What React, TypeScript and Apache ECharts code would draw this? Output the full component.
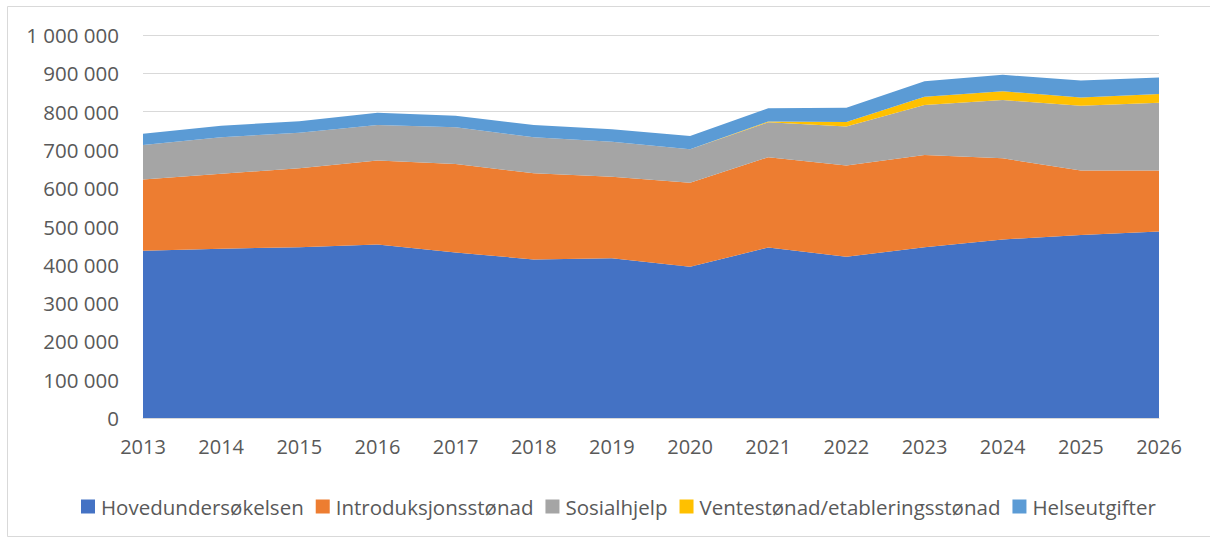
import React, { useEffect, useRef } from "react";
import * as echarts from "echarts";

const years = ["2013", "2014", "2015", "2016", "2017", "2018", "2019", "2020", "2021", "2022", "2023", "2024", "2025", "2026"];
const hovedundersokelsen = [437000, 442000, 446000, 453000, 432000, 414000, 417000, 395000, 445000, 421000, 446000, 466000, 478000, 487000];
const introduksjonsstonad = [186000, 196000, 206000, 219000, 231000, 225000, 213000, 219000, 236000, 238000, 241000, 212000, 168000, 159000];
const sosialhjelp = [90000, 95000, 93000, 93000, 96000, 94000, 91000, 88000, 91000, 102000, 130000, 152000, 169000, 177000];
const ventestonad = [0, 0, 0, 0, 0, 0, 0, 0, 2000, 12000, 22000, 23000, 22000, 23000];
const helseutgifter = [29000, 30000, 30000, 32000, 30000, 32000, 33000, 34000, 35000, 37000, 40000, 43000, 44000, 43000];
const yTicks = [0, 100000, 200000, 300000, 400000, 500000, 600000, 700000, 800000, 900000, 1000000];

const seriesDefs = [
  { name: "Hovedundersøkelsen", data: hovedundersokelsen, color: "#4472C4" },
  { name: "Introduksjonsstønad", data: introduksjonsstonad, color: "#ED7D31" },
  { name: "Sosialhjelp", data: sosialhjelp, color: "#A5A5A5" },
  { name: "Ventestønad/etableringsstønad", data: ventestonad, color: "#FFC000" },
  { name: "Helseutgifter", data: helseutgifter, color: "#5B9BD5" },
];

const fmt = (v: number) => String(v).replace(/\B(?=(\d{3})+(?!\d))/g, " ");

export default function App() {
  const ref = useRef<HTMLDivElement>(null);
  useEffect(() => {
    if (!ref.current) return;
    const chart = echarts.init(ref.current, undefined, { renderer: "svg" });
    const font = "'Open Sans', 'Liberation Sans', sans-serif";
    chart.setOption({
      animation: false,
      backgroundColor: "#ffffff",
      color: seriesDefs.map((s) => s.color),
      textStyle: { fontFamily: font },
      graphic: [
        {
          type: "rect",
          shape: { x: 7.5, y: 6.5, width: 1210, height: 530 },
          style: { fill: "none", stroke: "#d9d9d9", lineWidth: 1 },
          silent: true,
          z: -10,
        },
      ],
      grid: { left: 143, right: 51, top: 35, bottom: 120, containLabel: false },
      legend: {
        left: 76,
        top: 491,
        itemWidth: 14,
        itemHeight: 14,
        itemGap: 12,
        icon: "rect",
        textStyle: { fontSize: 20.5, color: "#595959", fontFamily: font, padding: [0, 0, 0, 1] },
        data: seriesDefs.map((s) => s.name),
      },
      xAxis: {
        type: "category",
        data: years,
        boundaryGap: false,
        axisLine: { show: true, lineStyle: { color: "#d9d9d9", width: 1 } },
        axisTick: { show: false },
        axisLabel: { color: "#595959", fontSize: 20, margin: 18, fontFamily: font },
        splitLine: { show: false },
      },
      yAxis: {
        type: "value",
        min: yTicks[0],
        max: yTicks[yTicks.length - 1],
        interval: yTicks[1] - yTicks[0],
        axisLine: { show: false },
        axisTick: { show: false },
        axisLabel: { color: "#595959", fontSize: 20.5, margin: 24, fontFamily: font, formatter: (v: number) => fmt(v) },
        splitLine: { show: true, lineStyle: { color: "#d9d9d9", width: 1 } },
      },
      series: seriesDefs.map((s) => ({
        name: s.name,
        type: "line",
        stack: "total",
        data: s.data,
        symbol: "none",
        lineStyle: { width: 0 },
        areaStyle: { color: s.color, opacity: 1 },
        itemStyle: { color: s.color },
      })),
    });
    return () => chart.dispose();
  }, []);
  return (
    <div
      ref={ref}
      style={{ position: "fixed", left: 0, top: 0, width: 1210, height: 538 }}
    />
  );
}
